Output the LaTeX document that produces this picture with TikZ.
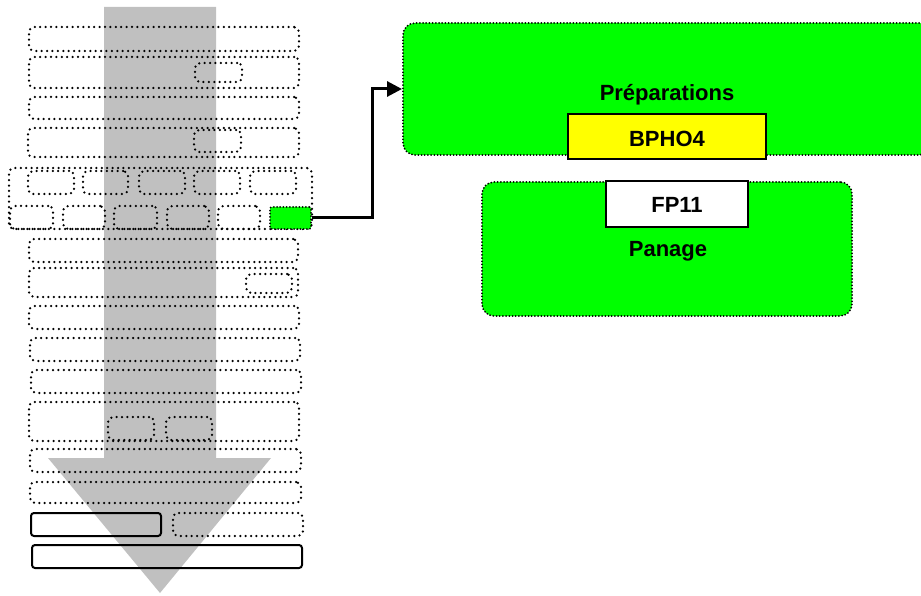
\documentclass[tikz,border=0pt]{standalone}
\usepackage{fontspec}
\setmainfont{Liberation Sans}
\usetikzlibrary{arrows.meta,fit}
\definecolor{flowgray}{HTML}{C0C0C0}
\definecolor{stepgreen}{HTML}{00FF00}
\definecolor{codeyellow}{HTML}{FFFF00}

\begin{document}
\begin{tikzpicture}[x=1pt, y=-1pt, >=Stealth,
    font=\fontsize{22}{26}\selectfont\bfseries,
    dotbox/.style={draw, line width=2.5pt, dash pattern=on 0pt off 5.4pt,
                   line cap=round, rounded corners=5pt, inner sep=0pt},
    solidbox/.style={draw, line width=2pt, rounded corners=3pt, inner sep=0pt},
    phase/.style={draw, fill=stepgreen, line width=2pt,
                  dash pattern=on 0pt off 3.2pt, line cap=round,
                  rounded corners=12pt, inner sep=0pt},
    codebox/.style={draw, fill=#1, line width=1.8pt, inner sep=0pt}]
  \useasboundingbox (0,0) rectangle (921,596);
  \clip (0,0) rectangle (921,596);
  %% Big downward arrow behind the column
  \fill[flowgray] (104,7) -- (216,7) -- (216,458) -- (271,458)
    -- (160,593) -- (48,458) -- (104,458) -- cycle;
  %% Column of rows
  \foreach \n/\a/\b/\c/\d in {r1/29/27/299/51, r2/29/57/299/88, r2a/195/63/242/82,
      r3/29/97/299/119, r4/28/128/299/157, r4a/194/130/241/152,
      grp/9/168/312/229,
      t1/28/171/74/194, t2/83/171/128/194, t3/139/171/185/194,
      t4/194/171/240/194, t5/250/171/296/194,
      b1/10/206/53/229, b2/63/206/105/229, b3/114/206/157/229,
      b4/167/206/209/229, b5/218/206/260/229,
      r5/29/239/298/262, r6/29/268/298/297, r6a/246/274/292/293,
      r7/29/306/299/329, r8/30/338/300/361, r9/31/370/301/393,
      r10/29/402/299/441, r10a/108/417/154/440, r10b/166/417/212/440,
      r11/30/449/301/472, r12/30/482/301/503, r13/173/513/303/536}
    \node[dotbox, fit={(\a,\b) (\c,\d)}] (\n) {};
  \node[solidbox, fit={(31,513) (161,536)}] (s1) {};
  \node[solidbox, fit={(32,545) (302,568)}] (s2) {};
  %% Highlighted step
  \node[phase, rounded corners=2pt, fit={(270,207) (311,229)}] (b6) {};
  %% Phases on the right
  \node[phase, fit={(403,23) (931,155)}] (prep) {};
  \node[codebox=codeyellow, fit={(568,114) (766,159)}] (bpho) {};
  \node[anchor=base] (bpholbl) at (667,147) {BPHO4};
  \node[anchor=base] (preplbl) at (667,101) {Préparations};
  \node[phase, fit={(482,182) (852,316)}] (pan) {};
  \node[codebox=white, fit={(606,181) (748,227)}] (fp) {};
  \node[anchor=base] (fplbl) at (677,213) {FP11};
  \node[anchor=base] (panlbl) at (668,257) {Panage};
  %% Link from the step to its phase
  \draw[line width=3pt, -{Triangle[length=15pt, width=15pt]}]
    (b6.east) -- ++(60,0) |- (prep.west);
\end{tikzpicture}
\end{document}
